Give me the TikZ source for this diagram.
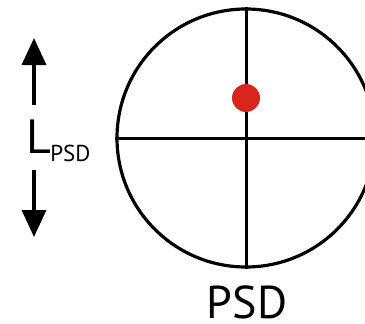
\documentclass[tikz,border=0pt]{standalone}
\usepackage{fontspec}
\setmainfont{PT Sans}
\usepackage{tikz}
\usetikzlibrary{arrows.meta}
\definecolor{spotred}{RGB}{218,37,29}

\begin{document}
\begin{tikzpicture}[x=1pt, y=-1pt, line width=3pt,
  dirarrow/.style={-{Triangle[width=24pt,length=27pt]}, line width=3.5pt}]
\useasboundingbox (0,0) rectangle (365,324);
\clip (0,0) rectangle (365,324);

\node[circle, draw, line width=3.2pt, minimum size=258pt, inner sep=0pt] (psd) at (246,138) {};
\draw (psd.north)--(psd.south);
\draw (psd.west)--(psd.east);
\node[circle, fill=spotred, minimum size=28pt, inner sep=0pt] (spot) at (246,98) {};

\node[anchor=base, inner sep=0pt, font=\fontsize{46pt}{46pt}\selectfont] (name) at (247,318) {PSD};

\node[anchor=base west, inner sep=0pt] (len) at (25,153)
  {\fontsize{48pt}{48pt}\selectfont L\kern-1pt\raisebox{-9pt}{\fontsize{23pt}{23pt}\selectfont PSD}};
\coordinate (upend) at (34,105);
\coordinate (uptip) at (34,38);
\coordinate (downend) at (34,170);
\coordinate (downtip) at (34,237);
\draw[dirarrow] (upend)--(uptip);
\draw[dirarrow] (downend)--(downtip);
\end{tikzpicture}
\end{document}
